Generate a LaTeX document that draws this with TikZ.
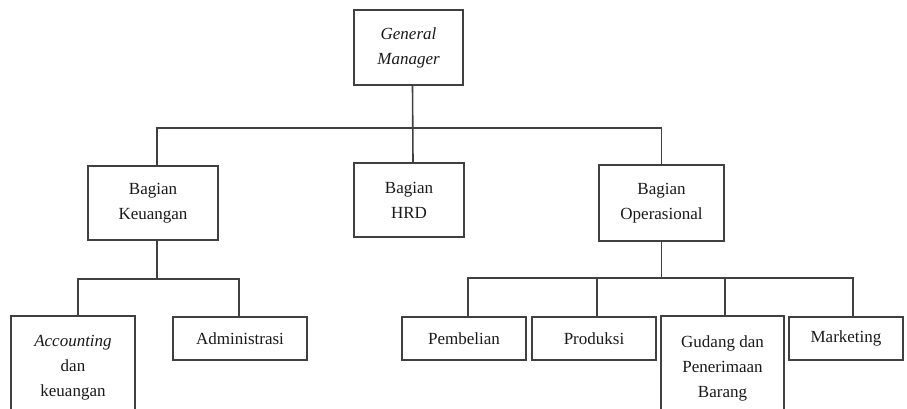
\documentclass[tikz,border=0pt]{standalone}
\usepackage{fontspec}
\setmainfont{Liberation Serif}
\begin{document}
\begin{tikzpicture}[x=1pt,y=1pt,
  box/.style={draw=black!75,line width=1.6pt,fill=white,inner sep=0pt,align=center,
    font=\fontsize{17}{25}\selectfont,text=black!90},
  conn/.style={draw=black!75,line width=1.6pt}]
\useasboundingbox (0,0) rectangle (907,-408);
\clip (0,0) rectangle (907,-408);
\coordinate (b1) at (0,-128);
\coordinate (b2) at (0,-279);
\coordinate (b3) at (0,-278);
\node[box,minimum width=109pt,minimum height=75pt] (gm) at (408.5,-47.5) {\itshape General\\\itshape Manager};
\node[box,minimum width=130pt,minimum height=74pt] (ku) at (153,-203) {Bagian\\Keuangan};
\node[box,minimum width=110pt,minimum height=74pt] (hrd) at (409,-200) {Bagian\\HRD};
\node[box,minimum width=125pt,minimum height=76pt] (op) at (661.5,-203) {Bagian\\Operasional};
\node[box,minimum width=124pt,minimum height=104pt] (acc) at (73,-368) {\itshape Accounting\\dan\\keuangan};
\node[box,minimum width=134pt,minimum height=43pt] (adm) at (240,-338.5) {Administrasi};
\node[box,minimum width=124pt,minimum height=43pt] (pb) at (464,-338.5) {Pembelian};
\node[box,minimum width=124pt,minimum height=43pt] (pr) at (594,-338.5) {Produksi};
\node[box,minimum width=123pt,minimum height=104pt] (gd) at (722.5,-368) {Gudang dan\\Penerimaan\\Barang};
\node[box,minimum width=114pt,minimum height=43pt] (mk) at (846,-338.5) {Marketing};
% level 1
\draw[conn] ([xshift=4pt]gm.south) -- ([xshift=4pt]hrd.north);
\draw[conn] ([xshift=4pt]ku.north) -- ([xshift=4pt]ku.north |- b1) -- (op.north |- b1) -- (op.north);
% keuangan
\draw[conn] ([xshift=4pt]ku.south) -- ([xshift=4pt]ku.south |- b2);
\draw[conn] ([xshift=5pt]acc.north) -- ([xshift=5pt]acc.north |- b2) -- ([xshift=-1pt]adm.north |- b2) -- ([xshift=-1pt]adm.north);
% operasional
\draw[conn] (op.south) -- (op.south |- b3);
\draw[conn] ([xshift=4pt]pb.north) -- ([xshift=4pt]pb.north |- b3) -- ([xshift=7pt]mk.north |- b3) -- ([xshift=7pt]mk.north);
\draw[conn] ([xshift=3pt]pr.north) -- ([xshift=3pt]pr.north |- b3);
\draw[conn] ([xshift=2.5pt]gd.north) -- ([xshift=2.5pt]gd.north |- b3);
\end{tikzpicture}
\end{document}
